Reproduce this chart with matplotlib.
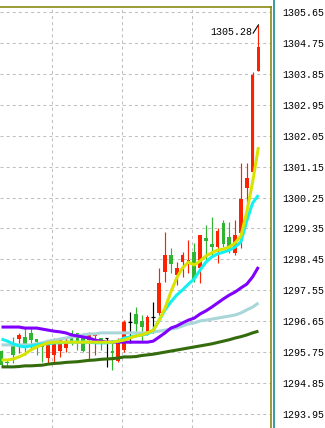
import numpy as np
import matplotlib
matplotlib.use("Agg")
import matplotlib.pyplot as plt
from matplotlib.lines import Line2D

RED    = "#ff2200"
GREEN  = "#2fb52f"
DOJI   = "#000000"
GRID   = "#c0c0c0"
OLIVE  = "#808000"
TEAL   = "#008080"

# candles, oldest first
opens  = [1295.78, 1295.45, 1295.93, 1296.13, 1296.19, 1296.31, 1296.13, 1296.02, 1295.58, 1295.67,
          1295.78, 1295.87, 1296.31, 1296.31, 1296.28, 1296.10, 1296.22, 1296.16, 1296.16, 1295.78,
          1295.49, 1295.81, 1296.63, 1296.86, 1296.66, 1296.31, 1296.77, 1296.89, 1298.08, 1298.58,
          1297.99, 1298.37, 1298.37, 1298.66, 1298.20, 1299.07, 1298.90, 1298.81, 1299.51, 1299.10,
          1298.63, 1299.22, 1300.53, 1300.99, 1303.93]
highs  = [1295.81, 1295.55, 1296.19, 1296.31, 1296.48, 1296.45, 1296.13, 1296.04, 1296.02, 1296.16,
          1296.16, 1296.19, 1296.39, 1296.31, 1296.31, 1296.34, 1296.31, 1296.16, 1296.16, 1296.10,
          1296.16, 1296.68, 1296.92, 1297.06, 1296.83, 1296.83, 1297.21, 1298.20, 1299.25, 1298.78,
          1298.37, 1298.66, 1299.01, 1298.93, 1299.16, 1299.45, 1299.68, 1299.36, 1299.60, 1299.54,
          1299.60, 1301.26, 1301.26, 1303.90, 1305.28]
lows   = [1295.32, 1295.32, 1295.43, 1295.72, 1295.67, 1295.81, 1295.67, 1295.46, 1295.40, 1295.43,
          1295.61, 1295.75, 1295.96, 1295.81, 1295.75, 1295.52, 1295.67, 1295.81, 1295.32, 1295.23,
          1295.46, 1295.75, 1296.02, 1296.25, 1296.04, 1296.25, 1296.31, 1296.83, 1297.79, 1298.05,
          1297.70, 1297.94, 1298.05, 1297.79, 1297.76, 1298.40, 1298.52, 1298.34, 1298.81, 1298.63,
          1298.58, 1298.78, 1299.80, 1300.99, 1303.93]
closes = [1295.37, 1295.43, 1295.67, 1296.25, 1295.96, 1296.10, 1296.04, 1295.90, 1296.02, 1296.02,
          1296.13, 1296.04, 1296.02, 1296.07, 1295.78, 1296.31, 1296.28, 1296.02, 1296.16, 1295.72,
          1296.10, 1296.63, 1296.63, 1296.57, 1296.48, 1296.77, 1296.77, 1297.76, 1298.58, 1298.31,
          1298.20, 1298.58, 1298.43, 1297.88, 1299.16, 1298.98, 1298.81, 1299.28, 1298.90, 1298.69,
          1299.16, 1300.21, 1300.82, 1303.82, 1304.63]

# moving averages, one value per candle
ma_yellow = [1295.52, 1295.52, 1295.55, 1295.61, 1295.69, 1295.81, 1295.90, 1295.96, 1296.02, 1296.04,
             1296.04, 1296.04, 1296.04, 1296.04, 1296.04, 1296.04, 1296.04, 1296.04, 1296.04, 1296.04,
             1296.07, 1296.10, 1296.16, 1296.22, 1296.25, 1296.31, 1296.39, 1296.68, 1297.03, 1297.50,
             1297.91, 1298.20, 1298.37, 1298.29, 1298.40, 1298.55, 1298.64, 1298.72, 1298.75, 1298.81,
             1298.93, 1299.13, 1299.83, 1300.70, 1301.72]
ma_cyan   = [1296.13, 1296.07, 1295.99, 1295.93, 1295.90, 1295.93, 1295.96, 1295.99, 1295.99, 1296.02,
             1296.02, 1296.04, 1296.04, 1296.04, 1296.04, 1296.04, 1296.02, 1296.02, 1296.02, 1296.04,
             1296.07, 1296.16, 1296.19, 1296.22, 1296.25, 1296.28, 1296.39, 1296.68, 1296.98, 1297.21,
             1297.41, 1297.56, 1297.73, 1297.88, 1298.14, 1298.37, 1298.52, 1298.61, 1298.66, 1298.72,
             1298.81, 1298.96, 1299.57, 1300.09, 1300.32]
ma_purple = [1296.48, 1296.48, 1296.48, 1296.48, 1296.45, 1296.45, 1296.45, 1296.42, 1296.39, 1296.36,
             1296.34, 1296.31, 1296.25, 1296.22, 1296.19, 1296.16, 1296.10, 1296.07, 1296.04, 1296.04,
             1296.04, 1296.04, 1296.04, 1296.04, 1296.04, 1296.04, 1296.07, 1296.19, 1296.31, 1296.45,
             1296.51, 1296.60, 1296.68, 1296.74, 1296.86, 1296.95, 1297.06, 1297.18, 1297.30, 1297.41,
             1297.50, 1297.62, 1297.73, 1297.94, 1298.23]
ma_light  = [1295.96, 1295.96, 1295.96, 1295.96, 1295.96, 1295.96, 1295.99, 1296.02, 1296.07, 1296.10,
             1296.13, 1296.16, 1296.19, 1296.22, 1296.25, 1296.28, 1296.28, 1296.31, 1296.31, 1296.31,
             1296.31, 1296.31, 1296.31, 1296.31, 1296.31, 1296.31, 1296.34, 1296.36, 1296.39, 1296.42,
             1296.45, 1296.51, 1296.57, 1296.60, 1296.66, 1296.68, 1296.71, 1296.74, 1296.77, 1296.80,
             1296.83, 1296.89, 1296.98, 1297.06, 1297.18]
ma_dark   = [1295.32, 1295.32, 1295.32, 1295.33, 1295.35, 1295.35, 1295.36, 1295.37, 1295.40, 1295.42,
             1295.43, 1295.45, 1295.46, 1295.47, 1295.49, 1295.51, 1295.52, 1295.54, 1295.55, 1295.56,
             1295.58, 1295.61, 1295.61, 1295.62, 1295.65, 1295.67, 1295.69, 1295.72, 1295.75, 1295.78,
             1295.81, 1295.84, 1295.87, 1295.90, 1295.93, 1295.96, 1295.99, 1296.03, 1296.07, 1296.11,
             1296.16, 1296.20, 1296.25, 1296.31, 1296.36]

price_ticks = [1305.65, 1304.75, 1303.85, 1302.95, 1302.05, 1301.15, 1300.25, 1299.35,
               1298.45, 1297.55, 1296.65, 1295.75, 1294.85, 1293.95]
time_grid = [8.65, 20.65, 32.65]
high_label = "1305.28"

plt.rcParams["lines.scale_dashes"] = False

W, H = 325, 428
fig = plt.figure(figsize=(W / 100, H / 100), dpi=100)
fig.patch.set_facecolor("white")
ax = fig.add_axes([0, 0, 271 / W, 1 - 7 / H])

x = np.arange(len(opens))
o = np.array(opens); c = np.array(closes)
hi = np.array(highs); lo = np.array(lows)
cols = np.where(c > o, RED, np.where(c < o, GREEN, DOJI))

# grid
for p in price_ticks:
    ax.axhline(p, color=GRID, lw=0.75, dashes=(2.2, 2.2), zorder=0)
for t in time_grid:
    ax.axvline(t, color=GRID, lw=0.75, dashes=(2.2, 2.2), zorder=0)

# candles
ax.vlines(x, lo, hi, colors=cols, lw=0.85, zorder=2)
body = np.abs(c - o)
ax.bar(x, body, bottom=np.minimum(o, c), width=0.64, color=cols, lw=0, zorder=3)
flat = c == o
ax.hlines(o[flat], x[flat] - 0.32, x[flat] + 0.32, colors=cols[flat], lw=0.85, zorder=3)

# moving averages
ma_kw = dict(lw=2.2, solid_capstyle="butt")
ax.plot(x, ma_dark, color="#346b0c", zorder=4, **ma_kw)
ax.plot(x, ma_light, color="#a9d6d9", zorder=4, **ma_kw)
ax.plot(x, ma_purple, color="#8000ff", zorder=4, **ma_kw)
ax.plot(x, ma_cyan, color="#14f0f0", zorder=5, **ma_kw)
ax.plot(x, ma_yellow, color="#d8e400", zorder=6, **ma_kw)

# high marker
last = len(opens) - 1
ax.plot([last - 0.9, last], [1305.04, highs[last]], color="black", lw=0.8, zorder=7)
ax.text(last - 1.0, 1305.08, high_label, ha="right", va="center",
        fontsize=7.2, family="Liberation Mono", color="black")

ax.set_xlim(-0.257, 46.15)
ax.set_ylim(1293.54, 1305.80)
ax.yaxis.tick_right()
ax.set_yticks(price_ticks)
ax.set_yticklabels([f"{p:.2f}" for p in price_ticks], fontsize=7.2, family="Liberation Mono")
ax.tick_params(axis="y", length=0, pad=8)
ax.set_xticks([])
for s in ("left", "bottom"):
    ax.spines[s].set_visible(False)
for s in ("top", "right"):
    ax.spines[s].set_color(OLIVE)
    ax.spines[s].set_linewidth(1.1)

fig.add_artist(Line2D([273.5 / W, 273.5 / W], [0, 1], color=TEAL, lw=1.1))

fig.savefig("out.png", dpi=100)
